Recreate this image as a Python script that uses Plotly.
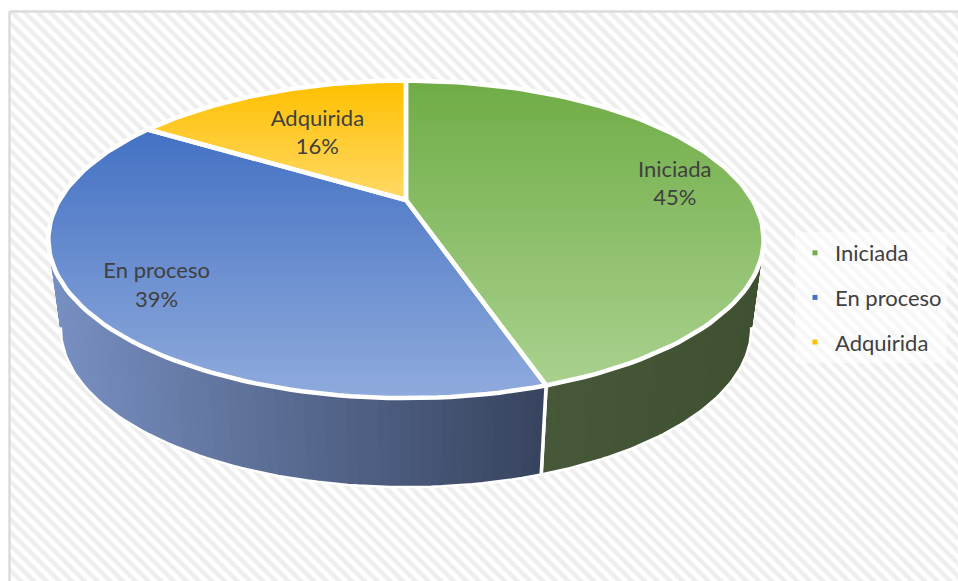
import math
import plotly.graph_objects as go

categories = ["Iniciada", "En proceso", "Adquirida"]
values = [45, 39, 16]
top_colors = [("#70AD47", "#A9D18E"), ("#4472C4", "#8FAADC"), ("#FFC000", "#FFD966")]
legend_colors = ["#70AD47", "#4472C4", "#FFC000"]
green_wall = ("#465838", "#3F5131")
blue_wall = ("#7890C2", "#38445F")
label_radius = [0.81, 0.80, 0.60]

W, H = 958, 581
CX, CY = 406, 200
B, A, K = 346.5, 149.0, -0.248
DEPTH, SHRINK = 89, 0.965
LABEL_DY = 4
FONT = "Lato"
TEXT = "#404040"


def hex_rgb(c):
    return tuple(int(c[i:i + 2], 16) for i in (1, 3, 5))


def mix(c1, c2, t):
    t = max(0.0, min(1.0, t))
    a, b = hex_rgb(c1), hex_rgb(c2)
    return "rgb(%d,%d,%d)" % tuple(round(a[i] + (b[i] - a[i]) * t) for i in range(3))


def top(theta, r=1.0):
    u, v = r * math.sin(theta), -r * math.cos(theta)
    d = 1 + K * v
    return CX + B * u / d, CY + A * v / d


def bottom(theta):
    x, y = top(theta)
    return CX + (x - CX) * SHRINK, y + DEPTH


def arc(a, b, n, fn):
    return [fn(a + (b - a) * i / n) for i in range(n + 1)]


def clip_below(poly, yb):
    out = []
    for i, p in enumerate(poly):
        q = poly[(i + 1) % len(poly)]
        if p[1] >= yb:
            out.append(p)
        if (p[1] >= yb) != (q[1] >= yb):
            t = (yb - p[1]) / (q[1] - p[1])
            out.append((p[0] + (q[0] - p[0]) * t, yb))
    return out


def poly_trace(pts, fill):
    return go.Scatter(
        x=[p[0] for p in pts] + [pts[0][0]], y=[p[1] for p in pts] + [pts[0][1]],
        mode="lines", fill="toself", fillcolor=fill, line=dict(width=0),
        showlegend=False, hoverinfo="skip")


def outline(pts, width, closed=True):
    xs = [p[0] for p in pts] + ([pts[0][0]] if closed else [])
    ys = [p[1] for p in pts] + ([pts[0][1]] if closed else [])
    return go.Scatter(
        x=xs, y=ys, mode="lines", line=dict(color="white", width=width),
        showlegend=False, hoverinfo="skip")


fig = go.Figure()

# hatched chart area
fig.add_trace(go.Scatter(
    x=[9.5, 975, 975, 9.5, 9.5], y=[11.5, 11.5, 600, 600, 11.5], mode="lines", fill="toself",
    fillcolor="white", line=dict(color="#DCDCDC", width=2.5),
    fillpattern=dict(shape="\\", size=9, solidity=0.5, fgcolor="#DEDEDE", bgcolor="white"),
    showlegend=False, hoverinfo="skip"))

total = sum(values)
angles = [0.0]
for v in values:
    angles.append(angles[-1] + 2 * math.pi * v / total)

# side walls, each from the divider to where the wall meets the silhouette
wall_ranges = [(math.radians(104), angles[1]), (angles[1], math.radians(256))]
wall_cols = [green_wall, blue_wall]
for i, (a0, a1) in enumerate(wall_ranges):
    cols = wall_cols[i]
    n = 70
    xs = [top(a0 + (a1 - a0) * k / n)[0] for k in range(n + 1)]
    xmin, xmax = min(xs), max(xs)
    for k in range(n):
        t0 = a0 + (a1 - a0) * k / n
        pts = arc(t0, a1, 24, top) + arc(a1, t0, 24, bottom)
        f = (top(t0)[0] - xmin) / (xmax - xmin)
        fig.add_trace(poly_trace(pts, mix(cols[0], cols[1], f)))
    fig.add_trace(outline(arc(a1, a0, 70, bottom), 2.5, closed=False))
    fig.add_trace(outline([top(angles[1]), bottom(angles[1])], 3.5, closed=False))

# top faces with vertical gradient
for i in range(3):
    wedge = [(CX, CY)] + arc(angles[i], angles[i + 1], 90, top)
    ys = [p[1] for p in wedge]
    y0, y1 = min(ys), max(ys)
    n = 45
    for k in range(n):
        yb = y0 + (y1 - y0) * k / n
        pts = clip_below(wedge, yb)
        if len(pts) >= 3:
            fig.add_trace(poly_trace(pts, mix(top_colors[i][0], top_colors[i][1], k / (n - 1))))
for i in range(3):
    fig.add_trace(outline([(CX, CY)] + arc(angles[i], angles[i + 1], 90, top), 4.5))

# data labels
for i, name in enumerate(categories):
    mid = (angles[i] + angles[i + 1]) / 2
    x, y = top(mid, label_radius[i])
    fig.add_trace(go.Scatter(
        x=[x], y=[y + LABEL_DY], mode="text",
        text=["%s<br>%d%%" % (name, round(values[i] / total * 100))],
        textposition="middle center", textfont=dict(family=FONT, size=22, color=TEXT),
        showlegend=False, hoverinfo="skip"))

# legend
for i, name in enumerate(categories):
    fig.add_trace(go.Scatter(
        x=[None], y=[None], mode="markers", name=name, legendgroup=name,
        marker=dict(symbol="square", size=5, color=legend_colors[i])))

fig.update_layout(
    width=W, height=H, margin=dict(l=0, r=0, t=0, b=0),
    paper_bgcolor="white", plot_bgcolor="white",
    xaxis=dict(range=[0, W], visible=False, fixedrange=True),
    yaxis=dict(range=[H, 0], visible=False, fixedrange=True),
    legend=dict(x=795 / W, xanchor="left", y=1 - 232 / H, yanchor="top",
                bgcolor="rgba(255,255,255,0.55)", tracegroupgap=13,
                font=dict(family=FONT, size=22, color=TEXT)),
)
fig.write_html(
    "out.html", config=dict(displayModeBar=False),
    default_width="%dpx" % W, default_height="%dpx" % H,
    post_script="document.documentElement.style.overflow='hidden';"
                "document.body.style.margin='0';document.body.style.overflow='hidden';")
